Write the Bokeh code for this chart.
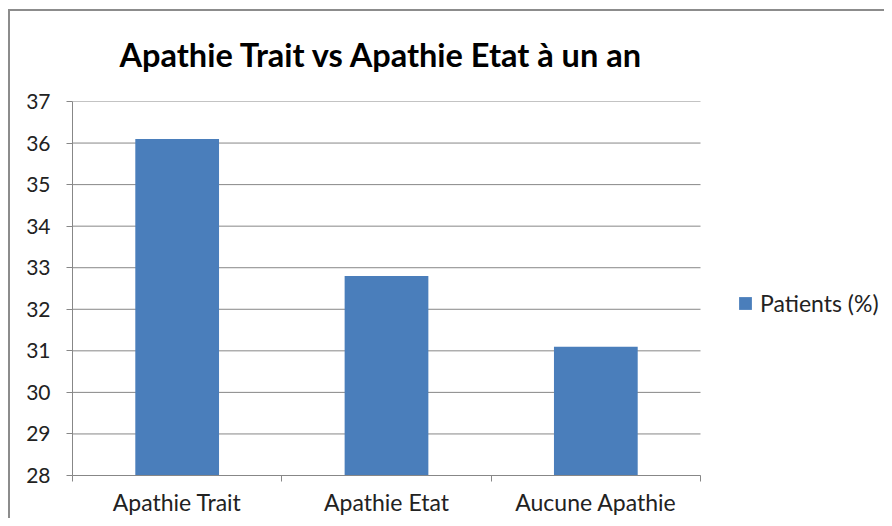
from bokeh.plotting import figure
from bokeh.models import ColumnDataSource, FixedTicker, Legend, LegendItem, Range1d
from bokeh.embed import file_html
from bokeh.resources import INLINE

categories = ["Apathie Trait", "Apathie Etat", "Aucune Apathie"]
patients_pct = [36.1, 32.8, 31.1]
y_ticks = [28, 29, 30, 31, 32, 33, 34, 35, 36, 37]
series_name = "Patients (%)"
title_text = "Apathie Trait vs Apathie Etat à un an"

n = len(categories)
xs = [i + 0.5 for i in range(n)]
src = ColumnDataSource(dict(x=xs, top=patients_pct, cat=categories))

GRAY = "#878787"
FONT = "Lato"

W, H = 884, 518
LEFT, TOP, BOTTOM = 72, 101, 43
AXIS_RIGHT_PX = 700          # right end of the category axis in pixels
frame_w = W - LEFT
x_end = n * frame_w / (AXIS_RIGHT_PX - LEFT)

p = figure(width=W, height=H, output_backend="svg", toolbar_location=None,
           x_range=Range1d(0, x_end), y_range=Range1d(y_ticks[0], y_ticks[-1]),
           min_border_left=LEFT, min_border_right=0, min_border_top=TOP,
           min_border_bottom=BOTTOM, title=title_text)
# chart-area border (top and left edges visible), drawn behind a transparent canvas border
p.styles = {
    "background": ("linear-gradient(#8c8c8c, #8c8c8c) 9px 9px / 100% 2px no-repeat, "
                   "linear-gradient(#8c8c8c, #8c8c8c) 8px 9px / 2px 100% no-repeat, white"),
}
p.border_fill_alpha = 0

p.title.align = "left"
p.title.text_font = FONT
p.title.text_font_size = "32.5px"
p.title.text_font_style = "bold"
p.title.text_color = "#000000"
p.title.offset = 47
p.title.standoff = 56

# horizontal grid lines limited to the category span
p.segment(x0=0, x1=n, y0=y_ticks, y1=y_ticks, line_color=GRAY, line_width=1)

r = p.vbar(x="x", top="top", bottom=y_ticks[0], width=0.4, source=src,
           fill_color="#4A7EBB", line_color=None)

p.outline_line_color = None
p.background_fill_color = "white"
p.xgrid.grid_line_color = None
p.ygrid.grid_line_color = None

# y axis
p.yaxis.ticker = FixedTicker(ticks=y_ticks)
p.yaxis.axis_line_color = GRAY
p.yaxis.major_tick_line_color = GRAY
p.yaxis.major_tick_out = 6
p.yaxis.major_tick_in = 0
p.yaxis.minor_tick_line_color = None
p.yaxis.major_label_text_font = FONT
p.yaxis.major_label_text_font_size = "21px"
p.yaxis.major_label_text_color = "#222222"
p.yaxis.major_label_standoff = 16

# x axis
p.xaxis.bounds = (0, n)
p.xaxis.ticker = FixedTicker(ticks=xs, minor_ticks=list(range(n + 1)))
p.xaxis.major_label_overrides = {x: c for x, c in zip(xs, categories)}
p.xaxis.axis_line_color = GRAY
p.xaxis.major_tick_line_color = None
p.xaxis.minor_tick_line_color = GRAY
p.xaxis.minor_tick_out = 6
p.xaxis.minor_tick_in = 0
p.xaxis.major_label_text_font = FONT
p.xaxis.major_label_text_font_size = "23px"
p.xaxis.major_label_text_color = "#222222"
p.xaxis.major_label_standoff = 6

legend = Legend(items=[LegendItem(label=series_name, renderers=[r])],
                location=(665, 158), border_line_color=None, background_fill_alpha=0,
                label_text_font=FONT, label_text_font_size="23px", label_text_color="#222222",
                glyph_width=16, glyph_height=16, label_standoff=7, padding=0, margin=0)
p.add_layout(legend, "center")

open("out.html", "w").write(file_html(p, INLINE))
